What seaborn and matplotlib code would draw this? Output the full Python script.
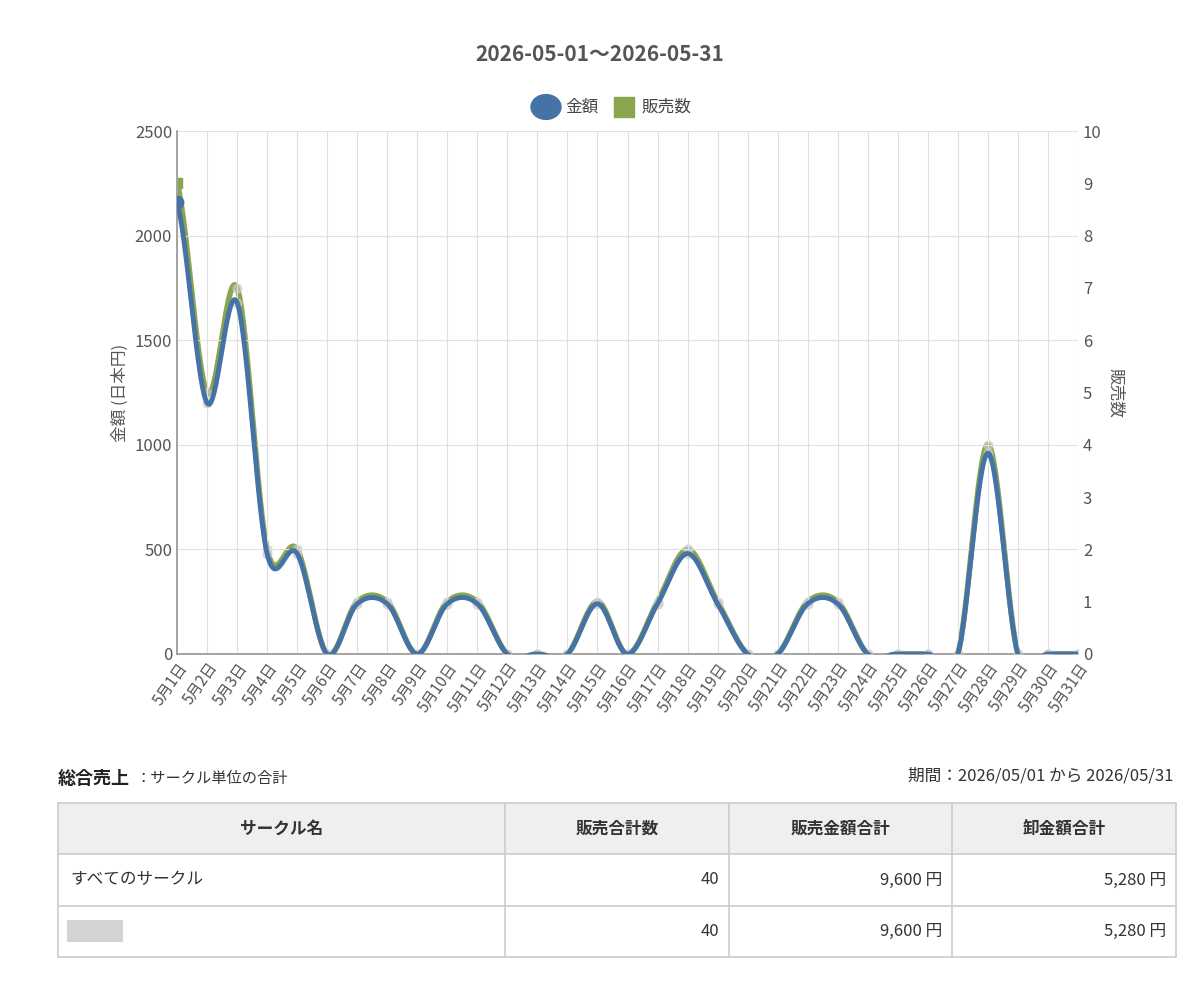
import numpy as np
import matplotlib
matplotlib.use('Agg')
import matplotlib.pyplot as plt
import seaborn as sns
import pandas as pd
from matplotlib.patches import Rectangle

sns.set_theme(style="whitegrid")
plt.rcParams['font.family'] = ['Noto Sans CJK JP', 'DejaVu Sans']

days = [f"5月{d}日" for d in range(1, 32)]
amount = [2160, 1200, 1680, 480, 480, 0, 240, 240, 0, 240, 240, 0, 0, 0, 240, 0,
          240, 480, 240, 0, 0, 240, 240, 0, 0, 0, 0, 960, 0, 0, 0]
count = [9, 5, 7, 2, 2, 0, 1, 1, 0, 1, 1, 0, 0, 0, 1, 0,
         1, 2, 1, 0, 0, 1, 1, 0, 0, 0, 0, 4, 0, 0, 0]
headers = ["サークル名", "販売合計数", "販売金額合計", "卸金額合計"]
rows = [["すべてのサークル", "40", "9,600 円", "5,280 円"],
        ["", "40", "9,600 円", "5,280 円"]]

BLUE = "#4572a7"
GREEN = "#89a54e"


def spline(y, n=30):
    y = np.asarray(y, float)
    p = np.concatenate([[y[0]], y, [y[-1]]])
    xs, ys = [], []
    for i in range(len(y) - 1):
        p0, p1, p2, p3 = p[i], p[i + 1], p[i + 2], p[i + 3]
        t = np.linspace(0, 1, n, endpoint=False)
        v = 0.5 * (2 * p1 + (-p0 + p2) * t + (2 * p0 - 5 * p1 + 4 * p2 - p3) * t ** 2
                   + (-p0 + 3 * p1 - 3 * p2 + p3) * t ** 3)
        xs.append(i + t)
        ys.append(v)
    xs.append([len(y) - 1])
    ys.append([y[-1]])
    return np.concatenate(xs), np.concatenate(ys)


fig = plt.figure(figsize=(12, 9.91), dpi=100)
ax = fig.add_axes([177 / 1200, 1 - 654 / 991, 901 / 1200, 523 / 991])
ax2 = ax.twinx()

x = np.arange(len(days))
sx, sy = spline(count)
sns.lineplot(x=sx, y=sy, ax=ax2, color=GREEN, lw=4, zorder=2)
ax2.scatter(x[1:], count[1:], s=40, color="#cccccc", alpha=0.6, zorder=3)
ax2.scatter([x[0]], [count[0]], marker="s", s=55, color=GREEN, zorder=5)
sx, sy = spline(amount)
ax.set_zorder(ax2.get_zorder() + 1)
ax.patch.set_visible(False)
sns.lineplot(x=sx, y=sy, ax=ax, color=BLUE, lw=3.5, zorder=4)
ax.scatter(x[1:], amount[1:], s=40, color="#cccccc", alpha=0.6, zorder=3)
ax.scatter([x[0]], [amount[0]], s=80, color=BLUE, zorder=5)

ax.set_xlim(0, 30)
ax.set_ylim(0, 2500)
ax2.set_ylim(0, 10)
ax.set_yticks(range(0, 2501, 500))
ax2.set_yticks(range(0, 11))
ax2.grid(False)
ax.grid(True, color="#e0e0e0", lw=0.8)
ax.set_xticks(x)
ax.set_xticklabels(days, rotation=55, ha="right", rotation_mode="anchor", fontsize=11, color="#555")
ax.tick_params(axis="y", labelsize=12, colors="#555", length=0)
ax2.tick_params(axis="y", labelsize=12, colors="#555", length=0)
ax.tick_params(axis="x", length=0, pad=4)
for a in (ax, ax2):
    for s in a.spines.values():
        s.set_visible(False)
ax.spines["left"].set_visible(True)
ax.spines["left"].set_color("#999")
ax.spines["bottom"].set_visible(True)
ax.spines["bottom"].set_color("#999")
ax.set_ylabel("金額 (日本円)", fontsize=12, color="#555")
ax2.set_ylabel("販売数", fontsize=12, color="#555", rotation=270, labelpad=16)

fig.text(0.5, 1 - 55 / 991, "2026-05-01〜2026-05-31", ha="center", va="center",
         fontsize=15, fontweight="bold", color="#555")
fig.patches.append(plt.Circle((546 / 1200, 1 - 107 / 991), 0.0125, color=BLUE,
                              transform=fig.transFigure, figure=fig))
fig.text(565 / 1200, 1 - 107 / 991, "金額", va="center", fontsize=12, color="#444")
fig.patches.append(Rectangle((614 / 1200, 1 - 117 / 991), 20 / 1200, 20 / 991, color=GREEN,
                             transform=fig.transFigure, figure=fig))
fig.text(641 / 1200, 1 - 107 / 991, "販売数", va="center", fontsize=12, color="#444")

# summary table
fig.text(58 / 1200, 1 - 779 / 991, "総合売上", va="center", fontsize=13, fontweight="bold", color="#222")
fig.text(135 / 1200, 1 - 779 / 991, "：サークル単位の合計", va="center", fontsize=11, color="#333")
fig.text(1174 / 1200, 1 - 776 / 991, "期間：2026/05/01 から 2026/05/31", ha="right",
         va="center", fontsize=12, color="#333")
cols = [58, 505, 729, 952, 1176]
rys = [803, 854, 906, 957]
fx = lambda v: v / 1200
fy = lambda v: 1 - v / 991
fig.patches.append(Rectangle((fx(58), fy(854)), fx(1118), 51 / 991, facecolor="#efefef",
                             edgecolor="none", transform=fig.transFigure, figure=fig))
for ry in rys:
    fig.add_artist(plt.Line2D([fx(58), fx(1176)], [fy(ry), fy(ry)], color="#cccccc", lw=1.2))
for cx in cols:
    fig.add_artist(plt.Line2D([fx(cx), fx(cx)], [fy(803), fy(957)], color="#cccccc", lw=1.2))
for i, h in enumerate(headers):
    fig.text(fx((cols[i] + cols[i + 1]) / 2), fy(829), h, ha="center", va="center",
             fontsize=12, fontweight="bold", color="#333")
for r, row in enumerate(rows):
    yc = fy((rys[r + 1] + rys[r + 2]) / 2)
    for i, v in enumerate(row):
        if i == 0:
            fig.text(fx(70), yc, v, ha="left", va="center", fontsize=12, color="#333")
        else:
            fig.text(fx(cols[i + 1] - 10), yc, v, ha="right", va="center", fontsize=12, color="#333")
fig.patches.append(Rectangle((fx(67), fy(942)), fx(56), 22 / 991, facecolor="#d4d4d4",
                             edgecolor="none", transform=fig.transFigure, figure=fig))

fig.savefig("out.png", dpi=100)
